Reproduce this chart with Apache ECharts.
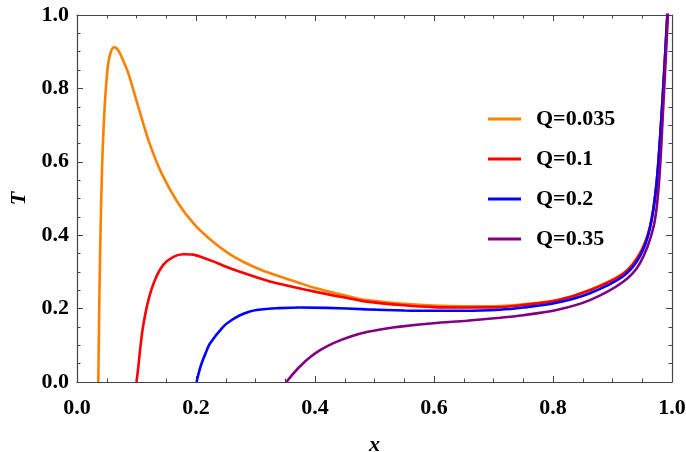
<!DOCTYPE html>
<html>
<head>
<meta charset="utf-8">
<script src="https://cdn.jsdelivr.net/npm/echarts@6/dist/echarts.min.js"></script>
<style>html,body{margin:0;padding:0;background:#fff}#c{width:686px;height:452px}</style>
</head>
<body>
<div id="c"></div>
<script>
var seriesNames = ['Q=0.035', 'Q=0.1', 'Q=0.2', 'Q=0.35'];
var xTicks = [0.0, 0.2, 0.4, 0.6, 0.8, 1.0];
var yTicks = [0.0, 0.2, 0.4, 0.6, 0.8, 1.0];

var q035 = [[0.0358,0],[0.0368,0.13],[0.038,0.27],[0.0398,0.43],[0.0418,0.565],[0.044,0.668],[0.0465,0.75],[0.0495,0.82],[0.0515,0.855],[0.054,0.882],[0.057,0.90],[0.060,0.91],[0.0627,0.912],[0.066,0.91],[0.070,0.902],[0.0765,0.88],[0.0863,0.841],[0.103,0.75],[0.120,0.659],[0.142,0.569],[0.170,0.487],[0.198,0.428],[0.225,0.387],[0.254,0.351],[0.28,0.327],[0.310,0.305],[0.336,0.29],[0.37,0.272],[0.40,0.256],[0.45,0.236],[0.487,0.223],[0.55,0.213],[0.598,0.208],[0.65,0.206],[0.711,0.207],[0.75,0.212],[0.806,0.223],[0.862,0.251],[0.918,0.296],[0.946,0.35],[0.963,0.423],[0.974,0.541],[0.983,0.741],[0.992,0.995],[0.995,1.1]];
var q01 = [[0.1,0],[0.103,0.04],[0.106,0.087],[0.111,0.151],[0.120,0.223],[0.131,0.278],[0.145,0.319],[0.162,0.341],[0.179,0.348],[0.195,0.347],[0.21,0.340],[0.23,0.328],[0.246,0.317],[0.28,0.297],[0.324,0.274],[0.392,0.249],[0.45,0.23],[0.487,0.219],[0.55,0.209],[0.599,0.204],[0.65,0.203],[0.711,0.204],[0.75,0.21],[0.806,0.222],[0.862,0.25],[0.918,0.295],[0.946,0.35],[0.963,0.423],[0.974,0.541],[0.983,0.741],[0.992,0.995],[0.995,1.1]];
var q02 = [[0.201,0],[0.205,0.027],[0.2095,0.051],[0.216,0.078],[0.2235,0.105],[0.246,0.151],[0.26,0.169],[0.274,0.182],[0.288,0.191],[0.302,0.196],[0.318,0.199],[0.336,0.201],[0.375,0.203],[0.42,0.202],[0.487,0.198],[0.55,0.195],[0.599,0.194],[0.65,0.194],[0.711,0.197],[0.75,0.203],[0.806,0.216],[0.862,0.242],[0.918,0.288],[0.946,0.342],[0.963,0.42],[0.974,0.54],[0.983,0.74],[0.992,0.995],[0.995,1.1]];
var q035b = [[0.352,0],[0.362,0.02],[0.375,0.043],[0.392,0.068],[0.41,0.088],[0.431,0.106],[0.46,0.124],[0.487,0.136],[0.52,0.146],[0.543,0.151],[0.599,0.160],[0.655,0.167],[0.711,0.175],[0.75,0.182],[0.806,0.196],[0.862,0.223],[0.918,0.273],[0.946,0.323],[0.969,0.423],[0.978,0.54],[0.985,0.74],[0.993,0.995],[0.996,1.1]];
var seriesData = [q035, q01, q02, q035b];
var colors = ['#FF8000', '#FF0000', '#0000FF', '#800080'];

var font = 'Liberation Serif';
var axisCol = '#444';
function makeAxis(type, pos, show, ticks) {
  return {
    type: 'value', position: pos, min: 0, max: 1, interval: 0.2,
    axisLine: { show: true, onZero: false, lineStyle: { color: axisCol, width: 1.2 } },
    axisTick: { show: true, inside: true, length: 6, lineStyle: { color: axisCol, width: 1 } },
    minorTick: { show: true, splitNumber: 4, length: 3.5, lineStyle: { color: axisCol, width: 1 } },
    splitLine: { show: false },
    axisLabel: {
      show: show, margin: type === 'x' ? 15 : 8,
      fontFamily: font, fontWeight: 'bold', fontSize: 22, color: '#000',
      formatter: function (v) { return v.toFixed(1); }
    }
  };
}
var xa = makeAxis('x', 'bottom', true, xTicks);
xa.name = 'x'; xa.nameLocation = 'middle'; xa.nameGap = 52;
xa.nameTextStyle = { fontFamily: font, fontStyle: 'italic', fontWeight: 'bold', fontSize: 22, color: '#000' };
var xb = makeAxis('x', 'top', false, xTicks);
var ya = makeAxis('y', 'left', true, yTicks);
ya.name = 'T'; ya.nameLocation = 'middle'; ya.nameGap = 46; ya.nameRotate = 90;
ya.nameTextStyle = { fontFamily: font, fontStyle: 'italic', fontWeight: 'bold', fontSize: 22, color: '#000' };
var yb = makeAxis('y', 'right', false, yTicks);

var chart = echarts.init(document.getElementById('c'), null, { renderer: 'canvas' });
chart.setOption({
  animation: false,
  backgroundColor: '#fff',
  grid: { left: 77, right: 14, top: 15, bottom: 70, containLabel: false, outerBoundsMode: 'none' },
  xAxis: [xa, xb],
  yAxis: [ya, yb],
  legend: {
    orient: 'vertical', left: 483, top: 103, itemWidth: 33, itemHeight: 3, itemGap: 18,
    icon: 'rect',
    textStyle: { fontFamily: font, fontWeight: 'bold', fontSize: 22, color: '#000', padding: [0, 0, 0, 10] },
    data: seriesNames
  },
  series: seriesNames.map(function (n, i) {
    return {
      name: n, type: 'line', data: seriesData[i], showSymbol: false, symbol: 'none',
      smooth: 0.3, clip: true, color: colors[i],
      lineStyle: { width: 2.6, color: colors[i] }
    };
  })
});
</script>
</body>
</html>
